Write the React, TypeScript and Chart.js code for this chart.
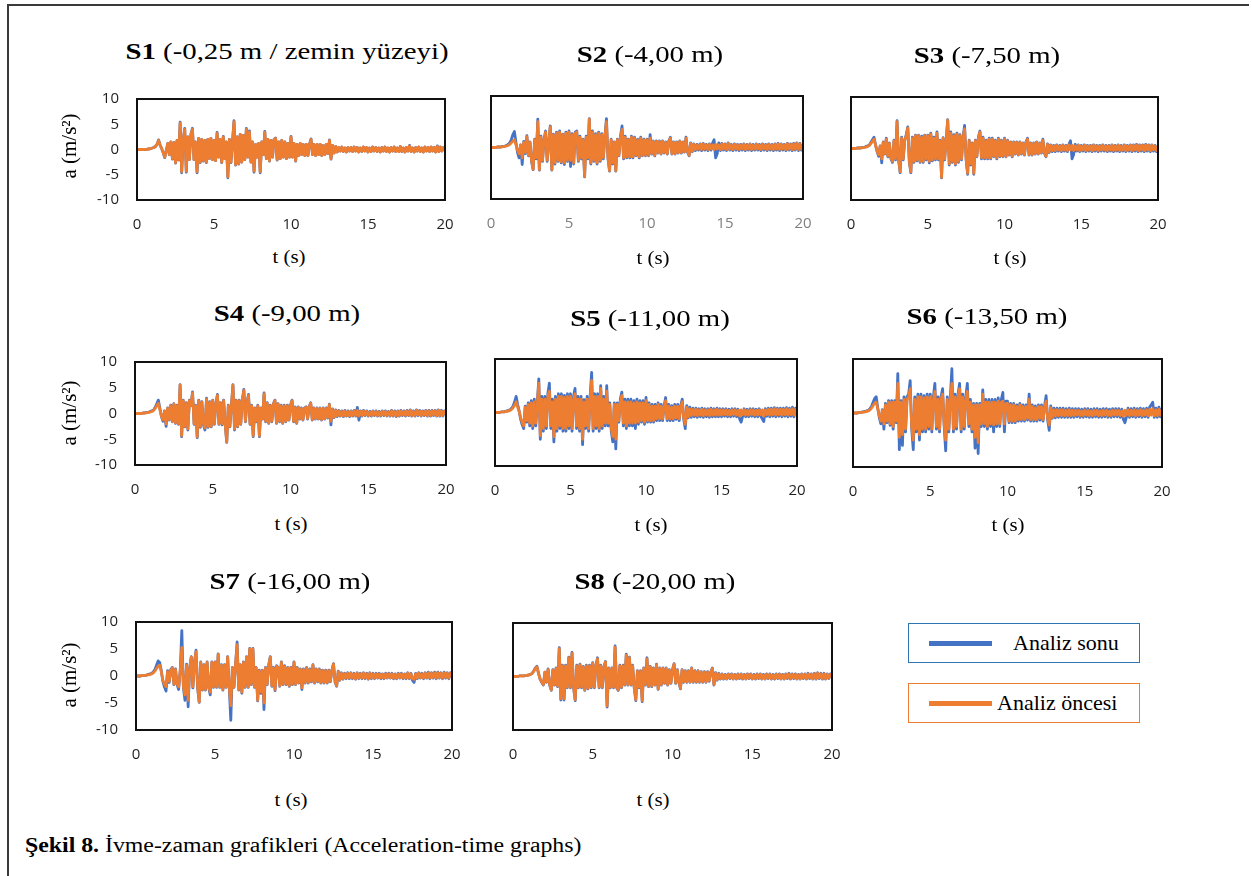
import React, { useEffect, useRef } from "react";
import { Chart, registerables } from "chart.js";

Chart.register(...registerables);

// ---------- DATA ----------
// time (s), 0.1 s steps
const TIME_S = [
  0, 0.1, 0.2, 0.3, 0.4, 0.5, 0.6, 0.7, 0.8, 0.9,
  1, 1.1, 1.2, 1.3, 1.4, 1.5, 1.6, 1.7, 1.8, 1.9,
  2, 2.1, 2.2, 2.3, 2.4, 2.5, 2.6, 2.7, 2.8, 2.9,
  3, 3.1, 3.2, 3.3, 3.4, 3.5, 3.6, 3.7, 3.8, 3.9,
  4, 4.1, 4.2, 4.3, 4.4, 4.5, 4.6, 4.7, 4.8, 4.9,
  5, 5.1, 5.2, 5.3, 5.4, 5.5, 5.6, 5.7, 5.8, 5.9,
  6, 6.1, 6.2, 6.3, 6.4, 6.5, 6.6, 6.7, 6.8, 6.9,
  7, 7.1, 7.2, 7.3, 7.4, 7.5, 7.6, 7.7, 7.8, 7.9,
  8, 8.1, 8.2, 8.3, 8.4, 8.5, 8.6, 8.7, 8.8, 8.9,
  9, 9.1, 9.2, 9.3, 9.4, 9.5, 9.6, 9.7, 9.8, 9.9,
  10, 10.1, 10.2, 10.3, 10.4, 10.5, 10.6, 10.7, 10.8, 10.9,
  11, 11.1, 11.2, 11.3, 11.4, 11.5, 11.6, 11.7, 11.8, 11.9,
  12, 12.1, 12.2, 12.3, 12.4, 12.5, 12.6, 12.7, 12.8, 12.9,
  13, 13.1, 13.2, 13.3, 13.4, 13.5, 13.6, 13.7, 13.8, 13.9,
  14, 14.1, 14.2, 14.3, 14.4, 14.5, 14.6, 14.7, 14.8, 14.9,
  15, 15.1, 15.2, 15.3, 15.4, 15.5, 15.6, 15.7, 15.8, 15.9,
  16, 16.1, 16.2, 16.3, 16.4, 16.5, 16.6, 16.7, 16.8, 16.9,
  17, 17.1, 17.2, 17.3, 17.4, 17.5, 17.6, 17.7, 17.8, 17.9,
  18, 18.1, 18.2, 18.3, 18.4, 18.5, 18.6, 18.7, 18.8, 18.9,
  19, 19.1, 19.2, 19.3, 19.4, 19.5, 19.6, 19.7, 19.8, 19.9,
  20,
];
const X_TICKS = [0, 5, 10, 15, 20];
const Y_TICKS = [-10, -5, 0, 5, 10];
const SENSOR_NAMES = ["S1", "S2", "S3", "S4", "S5", "S6", "S7", "S8"];
const SENSOR_DEPTHS = [
  "(-0,25 m / zemin yüzeyi)",
  "(-4,00 m)",
  "(-7,50 m)",
  "(-9,00 m)",
  "(-11,00 m)",
  "(-13,50 m)",
  "(-16,00 m)",
  "(-20,00 m)",
];
const SERIES_NAMES = ["Analiz sonu", "Analiz öncesi"];
const X_TITLE = "t (s)";
const Y_TITLE = "a (m/s²)";
const CAPTION_BOLD = "Şekil 8.";
const CAPTION_TEXT = " İvme-zaman grafikleri (Acceleration-time graphs)";

// ---- S1 ----
const S1_SONU = [
  0, 0, 0, 0, 0, 0, 0, 0.1, 0.1, 0.2,
  0.3, 0.4, 0.6, 1.0, 1.9, 0.9, 0.2, -0.6, -1.6, -0.2,
  1.2, -1.0, 1.5, -1.9, 1.4, -2.7, 1.8, -2.1, 5.4, -4.6,
  2.0, 4.2, -4.5, 2.5, -2.0, 3.0, 4.2, -2.0, 1.5, -4.6,
  2.2, -2.6, 2.0, -2.3, 1.8, -2.6, 2.0, -1.8, 2.2, -2.0,
  1.8, -2.2, 3.4, -1.5, 2.0, -2.6, 2.6, -1.8, 1.5, -5.6,
  2.0, -2.6, 1.5, 5.7, -3.1, 2.5, -2.9, 3.0, -2.5, 2.8,
  -2.0, 4.2, -1.5, 3.7, -2.5, 1.5, -4.5, 1.0, -1.5, 1.2,
  -4.6, 1.5, -1.0, 3.6, -1.8, 2.0, -2.3, 1.8, -1.5, 2.0,
  2.3, -2.1, 1.5, -1.8, 1.8, -1.5, 1.5, -1.8, 1.2, -1.5,
  2.6, -1.5, 1.2, -2.3, 1.0, -1.2, 1.2, -1.0, 1.0, -1.2,
  1.0, -1.2, 1.0, 2.1, -1.0, 1.0, -1.2, 1.0, -1.0, 1.0,
  -1.2, 0.8, -1.0, 1.0, -0.8, 1.9, -1.9, 0.8, -0.7, 0.6,
  -0.5, 0.4, -0.3, 0.5, -0.4, 0.3, -0.5, 0.4, -0.3, 0.4,
  -0.4, 0.5, -0.3, 0.4, -0.5, 0.3, -0.4, 0.5, -0.3, 0.4,
  -0.5, 0.3, -0.4, 0.5, -0.3, 0.4, -0.4, 0.3, -0.5, 0.4,
  -0.3, 0.5, -0.4, 0.3, -0.5, 0.4, -0.3, 0.5, -0.4, 0.3,
  -0.4, 0.6, -0.4, 0.3, -0.5, 0.4, -0.3, 0.8, -0.4, 0.3,
  -0.5, 0.4, -0.3, 0.5, -0.4, 0.3, -0.5, 0.5, -0.3, 0.4,
  -0.4, 0.5, -0.3, 0.4, -0.5, 0.7, -0.4, 0.5, -0.3, 0.4,
  0.3,
];
const S1_ONCESI = [
  0, 0, 0, 0, 0, 0, 0, 0.1, 0.1, 0.2,
  0.3, 0.4, 0.6, 1.0, 1.8, 0.9, 0.2, -0.6, -1.5, -0.2,
  1.2, -1.0, 1.5, -1.8, 1.4, -2.6, 1.8, -2.0, 5.2, -4.4,
  2.0, 4.0, -4.3, 2.5, -2.0, 3.0, 4.0, -2.0, 1.5, -4.4,
  2.2, -2.5, 2.0, -2.2, 1.8, -2.5, 2.0, -1.8, 2.2, -2.0,
  1.8, -2.2, 3.2, -1.5, 2.0, -2.5, 2.5, -1.8, 1.5, -5.4,
  2.0, -2.5, 1.5, 5.5, -3.0, 2.5, -2.8, 3.0, -2.5, 2.8,
  -2.0, 4.0, -1.5, 3.5, -2.5, 1.5, -4.3, 1.0, -1.5, 1.2,
  -4.4, 1.5, -1.0, 3.4, -1.8, 2.0, -2.2, 1.8, -1.5, 2.0,
  2.2, -2.0, 1.5, -1.8, 1.8, -1.5, 1.5, -1.8, 1.2, -1.5,
  2.5, -1.5, 1.2, -2.2, 1.0, -1.2, 1.2, -1.0, 1.0, -1.2,
  1.0, -1.2, 1.0, 2.0, -1.0, 1.0, -1.2, 1.0, -1.0, 1.0,
  -1.2, 0.8, -1.0, 1.0, -0.8, 1.8, -1.8, 0.8, -0.7, 0.6,
  -0.5, 0.4, -0.3, 0.5, -0.4, 0.3, -0.5, 0.4, -0.3, 0.4,
  -0.4, 0.5, -0.3, 0.4, -0.5, 0.3, -0.4, 0.5, -0.3, 0.4,
  -0.5, 0.3, -0.4, 0.5, -0.3, 0.4, -0.4, 0.3, -0.5, 0.4,
  -0.3, 0.5, -0.4, 0.3, -0.5, 0.4, -0.3, 0.5, -0.4, 0.3,
  -0.4, 0.6, -0.4, 0.3, -0.5, 0.4, -0.3, 0.7, -0.4, 0.3,
  -0.5, 0.4, -0.3, 0.5, -0.4, 0.3, -0.5, 0.5, -0.3, 0.4,
  -0.4, 0.5, -0.3, 0.4, -0.5, 0.6, -0.4, 0.5, -0.3, 0.4,
  0.3,
];
// ---- S2 ----
const S2_SONU = [
  0, 0, 0, 0, 0.1, 0.1, 0.1, 0.2, 0.2, 0.3,
  0.4, 0.6, 0.9, 1.5, 2.5, 3.1, 1.0, -1.0, -2.0, 0.5,
  -3.3, 1.2, -1.2, 2.3, -1.6, 1.1, -2.7, -4.3, 1.6, -2.2,
  5.5, -4.4, 2.2, -2.7, 1.6, 3.2, -2.7, 1.1, 4.2, -4.4,
  2.6, -3.2, 3.0, -2.7, 3.2, -3.0, 2.6, -3.3, 3.0, -2.7,
  3.2, -3.7, 2.7, -3.2, 3.0, 3.2, -2.7, 2.2, -2.2, 1.6,
  -5.7, 2.2, -2.2, 5.6, -3.2, 3.2, -2.7, 2.7, -3.2, 3.0,
  -2.7, 2.7, -2.2, 2.2, 5.6, -2.2, -4.6, 1.6, -3.2, 1.1,
  -4.6, 1.6, -1.6, 2.2, 4.2, -2.2, 2.2, -2.0, 1.6, -2.0,
  2.2, -2.0, 2.0, -1.6, 1.6, -2.0, 2.0, -1.6, 1.6, -1.6,
  1.6, -1.6, 2.5, -1.3, 1.3, -1.6, 1.3, -1.1, 1.3, -1.3,
  1.3, -1.1, 1.1, -1.3, 1.3, 2.0, -1.3, 1.1, -1.3, 1.1,
  -1.1, 1.3, -1.1, 1.1, -0.9, 2.0, -0.9, -1.6, 0.9, -0.8,
  0.7, -0.6, 0.6, -0.5, 0.7, -0.6, 0.8, -0.5, 0.6, -0.6,
  0.7, -0.5, 0.8, 1.5, -2.0, -1.2, 0.9, -0.6, 0.8, -0.5,
  0.7, -0.6, 0.9, -0.5, 0.6, -0.6, 0.7, -0.5, 0.6, -0.6,
  0.6, -0.5, 0.7, -0.6, 0.6, -0.5, 0.7, -0.6, 0.6, -0.5,
  0.7, -0.5, 0.6, -0.6, 0.7, -0.5, 0.6, -0.6, 0.7, -0.5,
  0.6, -0.6, 0.7, -0.5, 0.8, -0.6, 0.7, -0.5, 0.6, -0.6,
  0.8, -0.5, 0.7, -0.6, 0.8, -0.5, 0.9, -0.6, 0.8, -0.5,
  0.6,
];
const S2_ONCESI = [
  0, 0, 0, 0, 0.1, 0.1, 0.1, 0.1, 0.2, 0.2,
  0.3, 0.4, 0.6, 0.9, 1.2, 1.5, 0.5, -0.5, -1.2, 0.5,
  -2.0, 1.0, -1.0, 2.1, -1.5, 1.0, -2.5, -4.2, 1.5, -2.0,
  5.0, -4.3, 2.0, -2.5, 1.5, 3.0, -2.5, 1.0, 4.0, -4.3,
  2.5, -3.0, 2.8, -2.5, 3.0, -2.8, 2.5, -3.0, 2.8, -2.5,
  3.0, -2.5, 2.5, -3.0, 2.8, 3.0, -2.5, 2.0, -2.0, 1.5,
  -5.6, 2.0, -2.0, 5.5, -3.0, 3.0, -2.5, 2.5, -3.0, 2.8,
  -2.5, 2.5, -2.0, 2.0, 5.0, -2.0, -4.5, 1.5, -3.0, 1.0,
  -4.5, 1.5, -1.5, 2.0, 3.5, -2.0, 2.0, -1.8, 1.5, -1.8,
  2.0, -1.8, 1.8, -1.5, 1.5, -1.8, 1.8, -1.5, 1.5, -1.5,
  1.5, -1.5, 1.8, -1.2, 1.2, -1.5, 1.2, -1.0, 1.2, -1.2,
  1.2, -1.0, 1.0, -1.2, 1.2, 1.8, -1.2, 1.0, -1.2, 1.0,
  -1.0, 1.2, -1.0, 1.0, -0.8, 1.8, -0.8, -1.5, 0.8, -0.7,
  0.6, -0.4, 0.5, -0.3, 0.6, -0.4, 0.7, -0.3, 0.5, -0.4,
  0.6, -0.3, 0.5, -0.4, 0.6, -0.3, 0.5, -0.4, 0.7, -0.3,
  0.6, -0.4, 0.8, -0.3, 0.5, -0.4, 0.6, -0.3, 0.5, -0.4,
  0.5, -0.3, 0.6, -0.4, 0.5, -0.3, 0.6, -0.4, 0.5, -0.3,
  0.6, -0.3, 0.5, -0.4, 0.6, -0.3, 0.5, -0.4, 0.6, -0.3,
  0.5, -0.4, 0.6, -0.3, 0.7, -0.4, 0.6, -0.3, 0.5, -0.4,
  0.7, -0.3, 0.6, -0.4, 0.7, -0.3, 0.8, -0.4, 0.7, -0.3,
  0.5,
];
// ---- S3 ----
const S3_SONU = [
  0, 0, 0, 0, 0.1, 0.1, 0.1, 0.2, 0.2, 0.3,
  0.4, 0.5, 0.7, 1.2, 1.7, 2.2, 0.7, -0.6, -1.5, 0.5,
  -2.8, 1.3, -1.1, 2.0, -1.6, 1.1, -2.0, -2.7, 1.6, -2.2,
  5.4, -2.2, -4.7, 2.2, -2.2, 1.6, 2.7, 4.2, -2.7, -4.7,
  2.2, -2.7, 2.6, -2.4, 2.6, -2.7, 2.4, -2.7, 2.6, -2.2,
  2.6, -2.8, 3.0, -2.4, 2.2, -2.2, 3.2, -2.2, 1.6, -5.7,
  2.1, -2.2, 1.6, 5.6, -3.2, 3.2, -2.7, 2.7, -3.2, 3.0,
  -2.7, 2.7, -2.2, 2.2, 4.5, -2.2, -5.0, 1.6, -3.2, 1.1,
  -5.0, 1.6, -1.6, 2.2, 3.4, -2.0, 2.2, -2.0, 1.6, -2.0,
  2.0, -2.0, 2.0, -1.6, 1.6, -2.0, 2.0, -1.6, 1.6, -1.6,
  2.0, -1.6, 1.6, -1.3, 1.3, -1.6, 1.3, -1.1, 1.3, -1.3,
  1.3, -1.1, 1.1, -1.3, 1.3, 2.0, -1.3, 1.1, -1.3, 1.1,
  -1.1, 1.3, -1.1, 1.1, -0.9, 1.8, -0.9, -1.6, 0.9, -0.8,
  0.7, -0.6, 0.6, -0.6, 0.7, -0.5, 0.6, -0.6, 0.7, -0.5,
  0.6, -0.6, 0.8, 1.5, -2.0, -1.2, 0.8, -0.5, 0.7, -0.6,
  0.6, -0.5, 0.7, -0.6, 0.6, -0.5, 0.6, -0.6, 0.7, -0.5,
  0.6, -0.6, 0.6, -0.5, 0.7, -0.5, 0.6, -0.6, 0.6, -0.5,
  0.7, -0.6, 0.6, -0.5, 0.7, -0.6, 0.6, -0.5, 0.7, -0.6,
  0.6, -0.5, 0.7, -0.6, 0.7, -0.5, 0.8, -0.6, 0.7, -0.5,
  0.7, -0.6, 0.8, -0.5, 0.7, -0.6, 0.7, -0.5, 0.6, -0.6,
  0.5,
];
const S3_ONCESI = [
  0, 0, 0, 0, 0.1, 0.1, 0.1, 0.1, 0.2, 0.2,
  0.3, 0.4, 0.6, 1.0, 1.4, 1.8, 0.6, -0.5, -1.2, 0.5,
  -2.0, 1.2, -1.0, 1.8, -1.5, 1.0, -1.8, -2.5, 1.5, -2.0,
  5.2, -2.0, -4.5, 2.0, -2.0, 1.5, 2.5, 4.0, -2.5, -4.5,
  2.0, -2.5, 2.5, -2.2, 2.5, -2.5, 2.2, -2.5, 2.5, -2.0,
  2.5, -2.5, 2.8, -2.2, 2.0, -2.0, 3.0, -2.0, 1.5, -5.6,
  2.0, -2.0, 1.5, 5.5, -3.0, 3.0, -2.5, 2.5, -3.0, 2.8,
  -2.5, 2.5, -2.0, 2.0, 3.8, -2.0, -4.8, 1.5, -3.0, 1.0,
  -4.8, 1.5, -1.5, 2.0, 3.2, -1.8, 2.0, -1.8, 1.5, -1.8,
  1.8, -1.8, 1.8, -1.5, 1.5, -1.8, 1.8, -1.5, 1.5, -1.5,
  1.8, -1.5, 1.5, -1.2, 1.2, -1.5, 1.2, -1.0, 1.2, -1.2,
  1.2, -1.0, 1.0, -1.2, 1.2, 1.8, -1.2, 1.0, -1.2, 1.0,
  -1.0, 1.2, -1.0, 1.0, -0.8, 1.6, -0.8, -1.5, 0.8, -0.7,
  0.6, -0.4, 0.5, -0.4, 0.6, -0.3, 0.5, -0.4, 0.6, -0.3,
  0.5, -0.4, 0.7, -0.3, 0.6, -0.4, 0.5, -0.3, 0.6, -0.4,
  0.5, -0.3, 0.6, -0.4, 0.5, -0.3, 0.5, -0.4, 0.6, -0.3,
  0.5, -0.4, 0.5, -0.3, 0.6, -0.3, 0.5, -0.4, 0.5, -0.3,
  0.6, -0.4, 0.5, -0.3, 0.6, -0.4, 0.5, -0.3, 0.6, -0.4,
  0.5, -0.3, 0.6, -0.4, 0.6, -0.3, 0.7, -0.4, 0.6, -0.3,
  0.6, -0.4, 0.7, -0.3, 0.6, -0.4, 0.6, -0.3, 0.5, -0.4,
  0.4,
];
// ---- S4 ----
const S4_SONU = [
  0, 0, 0, 0, 0, 0.1, 0.1, 0.2, 0.2, 0.3,
  0.4, 0.5, 0.7, 1.2, 1.9, 2.6, 1.0, -0.6, -1.5, 0.5,
  -2.5, 1.1, -1.3, 1.6, -1.6, 1.9, -1.9, 1.6, -2.1, 5.6,
  -4.5, 2.6, -2.6, 2.1, -3.2, 2.6, 1.6, 4.2, -2.1, 1.6,
  -4.7, 2.6, -2.7, 2.3, -2.2, -3.2, 3.0, -2.7, 2.3, -2.6,
  2.6, -2.1, 1.9, 3.7, -2.1, 2.1, -2.2, 2.6, -2.1, -5.6,
  1.6, -2.6, 1.6, 5.6, -3.2, 2.6, -2.6, 2.6, -2.1, 2.6,
  4.7, -1.6, 2.1, 3.7, -2.1, 1.6, -4.5, 1.1, -1.6, 1.6,
  -4.5, 1.1, -1.1, 4.0, -1.6, 2.1, -1.9, 1.6, -1.6, 1.9,
  2.6, -1.9, 1.9, -1.6, 1.6, -1.9, 1.6, -1.6, 1.6, -1.3,
  1.6, 2.6, -1.6, 1.3, -1.9, 1.3, -1.1, 1.1, -1.3, 1.1,
  1.3, -1.1, 1.3, 2.1, -1.3, 1.1, -1.1, 1.1, -1.1, 1.1,
  -1.3, 1.1, -1.1, 1.1, -0.9, 1.8, -2.2, 0.9, -0.8, 0.7,
  -0.6, 0.6, -0.5, 0.5, -0.6, 0.6, -0.5, 0.5, -0.6, 0.5,
  -0.5, 0.6, -0.5, 1.2, -1.3, 0.5, -0.5, 0.6, -0.4, 0.5,
  -0.5, 0.4, -0.5, 0.5, -0.4, 0.5, -0.5, 0.4, -0.5, 0.5,
  -0.4, 0.5, -0.5, 0.4, -0.5, 0.6, -0.5, 0.5, -0.6, 0.5,
  -0.5, 0.6, -0.4, 0.5, -0.5, 0.6, -0.4, 0.7, -0.5, 0.5,
  -0.5, 0.7, -0.4, 0.6, -0.5, 0.5, -0.4, 0.6, -0.5, 0.6,
  -0.5, 0.6, -0.4, 0.6, -0.5, 0.7, -0.5, 0.6, -0.5, 0.5,
  0.5,
];
const S4_ONCESI = [
  0, 0, 0, 0, 0, 0.1, 0.1, 0.1, 0.2, 0.2,
  0.3, 0.4, 0.6, 1.0, 1.5, 2.0, 0.8, -0.5, -1.2, 0.5,
  -2.0, 1.0, -1.2, 1.5, -1.5, 1.8, -1.8, 1.5, -2.0, 5.5,
  -4.3, 2.5, -2.5, 2.0, -3.0, 2.5, 1.5, 4.0, -2.0, 1.5,
  -4.5, 2.5, -2.5, 2.2, -2.0, -2.8, 2.8, -2.5, 2.2, -2.5,
  2.5, -2.0, 1.8, 3.5, -2.0, 2.0, -2.0, 2.5, -2.0, -5.5,
  1.5, -2.5, 1.5, 5.5, -3.0, 2.5, -2.5, 2.5, -2.0, 2.5,
  4.5, -1.5, 2.0, 3.5, -2.0, 1.5, -4.3, 1.0, -1.5, 1.5,
  -4.3, 1.0, -1.0, 3.8, -1.5, 2.0, -1.8, 1.5, -1.5, 1.8,
  2.5, -1.8, 1.8, -1.5, 1.5, -1.8, 1.5, -1.5, 1.5, -1.2,
  1.5, 2.5, -1.5, 1.2, -1.8, 1.2, -1.0, 1.0, -1.2, 1.0,
  1.2, -1.0, 1.2, 2.0, -1.2, 1.0, -1.0, 1.0, -1.0, 1.0,
  -1.2, 1.0, -1.0, 1.0, -0.8, 1.7, -1.5, 0.8, -0.7, 0.6,
  -0.5, 0.5, -0.4, 0.4, -0.5, 0.5, -0.4, 0.4, -0.5, 0.4,
  -0.4, 0.5, -0.4, 0.6, -0.5, 0.4, -0.4, 0.5, -0.3, 0.4,
  -0.4, 0.3, -0.4, 0.4, -0.3, 0.4, -0.4, 0.3, -0.4, 0.4,
  -0.3, 0.4, -0.4, 0.3, -0.4, 0.5, -0.4, 0.4, -0.5, 0.4,
  -0.4, 0.5, -0.3, 0.4, -0.4, 0.5, -0.3, 0.6, -0.4, 0.4,
  -0.4, 0.6, -0.3, 0.5, -0.4, 0.4, -0.3, 0.5, -0.4, 0.5,
  -0.4, 0.5, -0.3, 0.5, -0.4, 0.6, -0.4, 0.5, -0.4, 0.4,
  0.4,
];
// ---- S5 ----
const S5_SONU = [
  0, 0, 0, 0, 0.1, 0.1, 0.1, 0.2, 0.3, 0.4,
  0.5, 0.8, 1.2, 2.0, 3.0, 1.5, 0.3, -1.3, -2.3, -3.0,
  1.2, -1.8, 1.8, -2.5, 2.2, -3.0, 2.5, -2.5, 1.8, 6.3,
  -5.0, 3.0, -3.5, 3.0, -3.0, 3.5, 5.5, -3.0, 2.5, -5.5,
  3.0, -3.5, 3.5, -3.0, 3.5, -3.5, 3.2, -3.5, 3.5, -3.0,
  3.5, -3.5, 3.0, 4.5, -3.0, 3.0, -3.5, 3.0, -6.0, 2.4,
  -3.0, 3.0, -3.5, 3.0, 7.5, -3.5, 3.5, -3.0, 3.5, -3.5,
  5.0, -3.0, 3.0, -2.5, 5.0, -2.5, 1.8, -3.5, -5.5, 1.8,
  -6.8, 1.8, -1.8, 2.5, 3.8, -2.5, 2.5, -3.0, 2.5, -2.5,
  2.5, -2.5, 2.2, -3.0, 2.5, -2.2, 2.2, -1.8, 2.2, -2.2,
  2.8, -1.8, 1.8, -1.8, 1.5, -1.8, 1.5, -1.5, 1.8, -1.5,
  1.5, -1.5, 1.3, 2.8, -1.5, 1.5, -1.5, 1.3, -1.5, 1.5,
  -1.3, 1.5, -1.5, 1.3, 2.5, -1.3, -3.0, 1.3, -1.0, 1.0,
  -0.9, 0.8, -0.8, 0.8, -0.9, 0.7, -0.8, 0.8, -0.9, 0.7,
  -0.8, 0.7, -0.9, 0.8, -0.8, 0.7, -0.8, 0.8, -0.8, 0.7,
  -0.8, 0.7, -0.7, 0.7, -0.8, 0.6, -0.8, 0.7, -0.7, 0.7,
  -0.8, 0.6, -1.2, -1.8, -0.7, 0.7, -0.8, 0.6, -0.8, 0.7,
  -0.7, 0.7, -0.8, 0.6, -0.8, 0.7, -0.7, -1.2, -1.7, 0.7,
  -0.7, 0.8, -0.8, 0.8, -0.7, 0.9, -0.8, 0.8, -0.7, 0.8,
  -0.8, 0.8, -0.7, 0.9, -0.8, 0.8, -0.7, 1.0, -0.8, 0.8,
  0.8,
];
const S5_ONCESI = [
  0, 0, 0, 0, 0.1, 0.1, 0.1, 0.2, 0.2, 0.3,
  0.4, 0.6, 0.9, 1.4, 2.0, 1.0, 0.2, -1.0, -1.8, -2.5,
  1.0, -1.5, 1.5, -2.0, 1.8, -2.5, 2.0, -2.0, 1.5, 5.5,
  -4.3, 2.5, -3.0, 2.5, -2.5, 3.0, 4.0, -2.5, 2.0, -4.5,
  2.5, -3.0, 3.0, -2.5, 3.0, -3.0, 2.8, -3.0, 3.0, -2.5,
  3.0, -3.0, 2.5, 3.5, -2.5, 2.5, -3.0, 2.5, -5.0, 2.0,
  -2.5, 2.5, -3.0, 2.5, 6.0, -3.0, 3.0, -2.5, 3.0, -3.0,
  4.5, -2.5, 2.5, -2.0, 4.0, -2.0, 1.5, -3.0, -4.5, 1.5,
  -5.0, 1.5, -1.5, 2.0, 3.2, -2.0, 2.0, -2.5, 2.0, -2.0,
  2.0, -2.0, 1.8, -2.0, 2.0, -1.8, 1.8, -1.5, 1.8, -1.8,
  2.2, -1.5, 1.5, -1.5, 1.2, -1.5, 1.2, -1.2, 1.5, -1.2,
  1.2, -1.2, 1.0, 2.2, -1.2, 1.2, -1.2, 1.0, -1.2, 1.2,
  -1.0, 1.2, -1.2, 1.0, 2.0, -1.0, -2.2, 1.0, -0.8, 0.7,
  -0.6, 0.6, -0.5, 0.6, -0.6, 0.5, -0.5, 0.6, -0.6, 0.5,
  -0.5, 0.5, -0.6, 0.6, -0.5, 0.5, -0.5, 0.6, -0.5, 0.5,
  -0.5, 0.5, -0.4, 0.5, -0.5, 0.4, -0.5, 0.5, -0.4, 0.5,
  -0.5, 0.4, -0.7, 0.5, -0.4, 0.5, -0.5, 0.4, -0.5, 0.5,
  -0.4, 0.5, -0.5, 0.4, -0.5, 0.5, -0.4, 0.5, -0.7, 0.5,
  -0.4, 0.6, -0.5, 0.6, -0.4, 0.7, -0.5, 0.6, -0.4, 0.6,
  -0.5, 0.6, -0.4, 0.7, -0.5, 0.6, -0.4, 0.7, -0.5, 0.6,
  0.6,
];
// ---- S6 ----
const S6_SONU = [
  0, 0, 0, 0, 0.1, 0.1, 0.2, 0.2, 0.3, 0.4,
  0.5, 0.8, 1.2, 2.0, 2.7, 3.0, 1.0, -0.8, -2.0, 0.6,
  -3.0, 1.8, -1.8, 2.3, -2.3, 2.3, -3.0, 2.3, -1.8, 7.3,
  -6.8, 2.3, -6.0, 3.0, -3.5, 3.0, 3.5, 6.0, -3.0, -6.8,
  3.0, -3.5, 3.5, -5.0, 3.5, -3.5, 3.2, -3.5, 3.5, -3.0,
  3.5, -3.5, 3.0, 5.5, -3.0, 3.0, -3.5, 3.0, 4.5, -2.5,
  -7.0, 3.0, -3.5, 3.0, 8.2, -3.5, 3.5, -3.0, 3.5, 5.5,
  -3.5, 3.5, -3.0, 3.0, 5.5, -2.5, 2.5, -3.5, 1.8, -6.5,
  1.8, -7.5, 1.8, -2.5, 4.3, -2.5, 2.5, -3.0, 2.5, -2.5,
  2.5, -3.5, 2.5, -2.5, 2.8, -2.5, 2.5, 3.8, -3.5, 2.2,
  2.2, -1.8, 1.8, -1.8, 1.8, -1.8, 1.5, -1.5, 1.8, -1.5,
  1.5, -1.5, 1.5, -1.3, 3.5, -1.5, 1.5, -1.5, 1.3, -1.5,
  1.5, -1.3, 1.5, -1.5, 1.3, 3.2, -1.3, -3.2, 1.3, -1.0,
  0.9, -0.9, 0.9, -0.8, 0.9, -0.8, 0.9, -0.8, 0.8, -0.8,
  0.9, -0.8, 0.8, -0.8, 0.8, -0.7, 0.8, -0.8, 0.7, -0.8,
  0.8, -0.7, 0.8, -0.8, 0.7, -0.8, 0.8, -0.7, 0.8, -0.8,
  0.7, -0.8, 0.8, -0.7, 0.8, -0.8, 0.7, -0.8, 0.8, -0.7,
  0.8, -0.7, 0.8, -0.8, 0.7, -1.2, -1.8, -0.7, 0.9, -0.8,
  0.8, -0.7, 0.9, -0.8, 0.8, -0.7, 0.9, -0.8, 0.8, -0.7,
  0.9, -0.8, 1.1, 1.5, 2.0, -0.8, 0.9, -0.8, 1.1, -0.7,
  0.9,
];
const S6_ONCESI = [
  0, 0, 0, 0, 0.1, 0.1, 0.1, 0.2, 0.2, 0.3,
  0.4, 0.6, 0.9, 1.4, 1.8, 2.0, 0.8, -0.5, -1.5, 0.5,
  -2.0, 1.5, -1.5, 2.0, -2.0, 2.0, -2.5, 2.0, -1.5, 5.5,
  -4.5, 2.0, -4.0, 2.5, -3.0, 2.5, 3.0, 4.5, -2.5, -5.0,
  2.5, -3.0, 3.0, -4.0, 3.0, -3.0, 2.8, -3.0, 3.0, -2.5,
  3.0, -3.0, 2.5, 4.0, -2.5, 2.5, -3.0, 2.5, 3.5, -2.0,
  -5.0, 2.5, -3.0, 2.5, 5.5, -3.0, 3.0, -2.5, 3.0, 4.5,
  -3.0, 3.0, -2.5, 2.5, 4.0, -2.0, 2.0, -3.0, 1.5, -4.5,
  1.5, -5.5, 1.5, -2.0, 3.5, -2.0, 2.0, -2.5, 2.0, -2.0,
  2.0, -2.2, 2.0, -2.0, 2.2, -2.0, 2.0, 2.2, -2.0, 1.8,
  1.8, -1.5, 1.5, -1.5, 1.5, -1.5, 1.2, -1.2, 1.5, -1.2,
  1.2, -1.2, 1.2, -1.0, 2.5, -1.2, 1.2, -1.2, 1.0, -1.2,
  1.2, -1.0, 1.2, -1.2, 1.0, 2.2, -1.0, -2.2, 1.0, -0.8,
  0.6, -0.6, 0.6, -0.5, 0.6, -0.5, 0.6, -0.5, 0.5, -0.5,
  0.6, -0.5, 0.5, -0.5, 0.5, -0.4, 0.5, -0.5, 0.4, -0.5,
  0.5, -0.4, 0.5, -0.5, 0.4, -0.5, 0.5, -0.4, 0.5, -0.5,
  0.4, -0.5, 0.5, -0.4, 0.5, -0.5, 0.4, -0.5, 0.5, -0.4,
  0.5, -0.4, 0.5, -0.5, 0.4, -0.6, 0.5, -0.4, 0.6, -0.5,
  0.5, -0.4, 0.6, -0.5, 0.5, -0.4, 0.6, -0.5, 0.5, -0.4,
  0.6, -0.5, 0.7, -0.4, 0.8, -0.5, 0.6, -0.5, 0.7, -0.4,
  0.6,
];
// ---- S7 ----
const S7_SONU = [
  0, 0, 0, 0, 0.1, 0.1, 0.1, 0.2, 0.3, 0.4,
  0.5, 0.8, 1.2, 2.0, 2.8, 2.5, 1.0, -1.0, -2.0, -2.8,
  1.0, -1.2, 1.2, 1.6, -1.6, 1.3, -1.6, -2.5, 1.1, 8.4,
  -2.2, -4.5, 2.2, -5.7, 1.6, 3.6, -2.2, 2.6, 4.8, -2.2,
  -4.9, 2.6, -2.6, 2.1, -2.6, 2.6, -2.1, -3.5, 2.6, -2.1,
  2.6, -2.1, 4.1, -2.1, 2.1, -2.6, 2.1, -2.1, 3.6, -2.1,
  -8.2, 1.6, -2.1, 2.1, 6.3, -2.6, 2.1, -3.2, 2.6, -2.1,
  3.6, -2.1, 5.1, -1.6, 5.1, -2.1, 1.6, -4.6, 1.1, -3.2,
  1.1, -6.2, 1.6, -1.6, 2.1, 3.6, -1.9, 1.6, -2.7, 1.9,
  1.6, -1.9, 2.6, -1.6, 1.9, -1.6, 1.6, -1.9, 1.6, -1.6,
  2.6, -1.6, 1.6, -1.3, 1.3, -2.5, 1.3, -1.3, 1.6, -1.3,
  1.3, -1.1, 2.1, -1.3, 1.3, -1.1, 1.3, -1.3, 1.1, -1.3,
  1.1, -1.3, 1.1, -1.1, 1.1, 2.3, -1.1, -1.9, 0.9, -0.8,
  0.6, -0.6, 0.5, -0.5, 0.6, -0.5, 0.6, -0.5, 0.5, -0.6,
  0.6, -0.5, 0.5, -0.5, 0.6, -0.5, 0.5, -0.6, 0.6, -0.5,
  0.5, -0.5, 0.5, -0.4, 0.5, -0.5, 0.4, -0.5, 0.5, -0.4,
  0.5, -0.4, 0.5, -0.5, 0.4, -0.5, 0.5, -0.4, 0.5, -0.5,
  0.4, -0.5, 0.6, -0.5, 0.5, -0.8, -1.2, 0.5, -0.5, 0.6,
  -0.4, 0.5, -0.5, 0.6, -0.4, 0.7, -0.5, 0.6, -0.4, 0.7,
  -0.5, 0.7, -0.4, 0.6, -0.5, 0.7, -0.4, 0.6, -0.5, 0.6,
  0.5,
];
const S7_ONCESI = [
  0, 0, 0, 0, 0.1, 0.1, 0.1, 0.2, 0.2, 0.3,
  0.4, 0.6, 0.9, 1.4, 1.8, 2.0, 0.8, -0.8, -1.5, -2.0,
  0.8, -1.0, 1.0, 1.5, -1.5, 1.2, -1.5, -2.0, 1.0, 5.3,
  -2.0, -3.5, 2.0, -4.5, 1.5, 3.5, -2.0, 2.5, 4.5, -2.0,
  -4.8, 2.5, -2.5, 2.0, -2.5, 2.5, -2.0, -3.0, 2.5, -2.0,
  2.5, -2.0, 4.0, -2.0, 2.0, -2.5, 2.0, -2.0, 3.5, -2.0,
  -5.5, 1.5, -2.0, 2.0, 5.8, -2.5, 2.0, -3.0, 2.5, -2.0,
  3.5, -2.0, 5.0, -1.5, 5.0, -2.0, 1.5, -4.5, 1.0, -3.0,
  1.0, -5.0, 1.5, -1.5, 2.0, 3.5, -1.8, 1.5, -2.5, 1.8,
  1.5, -1.8, 2.5, -1.5, 1.8, -1.5, 1.5, -1.8, 1.5, -1.5,
  2.5, -1.5, 1.5, -1.2, 1.2, -2.2, 1.2, -1.2, 1.5, -1.2,
  1.2, -1.0, 2.0, -1.2, 1.2, -1.0, 1.2, -1.2, 1.0, -1.2,
  1.0, -1.2, 1.0, -1.0, 1.0, 2.2, -1.0, -1.8, 0.8, -0.7,
  0.5, -0.5, 0.4, -0.4, 0.5, -0.4, 0.5, -0.4, 0.4, -0.5,
  0.5, -0.4, 0.4, -0.4, 0.5, -0.4, 0.4, -0.5, 0.5, -0.4,
  0.4, -0.4, 0.4, -0.3, 0.4, -0.4, 0.3, -0.4, 0.4, -0.3,
  0.4, -0.3, 0.4, -0.4, 0.3, -0.4, 0.4, -0.3, 0.4, -0.4,
  0.3, -0.4, 0.5, -0.4, 0.4, -0.5, -0.6, 0.4, -0.4, 0.5,
  -0.3, 0.4, -0.4, 0.5, -0.3, 0.6, -0.4, 0.5, -0.3, 0.6,
  -0.4, 0.6, -0.3, 0.5, -0.4, 0.6, -0.3, 0.5, -0.4, 0.5,
  0.4,
];
// ---- S8 ----
const S8_SONU = [
  0, 0, 0, 0, 0.1, 0.1, 0.1, 0.1, 0.2, 0.2,
  0.3, 0.4, 0.6, 1.0, 1.6, 1.9, 0.6, -0.5, -1.1, -1.6,
  0.8, -1.1, 1.4, -1.6, -2.6, 1.3, -1.6, 1.6, -1.9, 5.4,
  -4.4, 2.1, -4.4, 2.1, -2.1, 3.6, -2.1, 4.5, -2.1, -4.5,
  2.1, -2.1, 2.3, -2.1, 1.9, -2.6, 2.1, -2.3, 2.1, -2.1,
  2.6, -2.1, 2.1, 3.5, -2.1, 2.1, -2.1, 1.9, 2.8, -5.7,
  1.6, -2.1, 1.6, -2.1, 5.7, -2.1, -2.6, 2.1, -2.1, 2.1,
  -1.6, 4.2, -1.6, 3.6, -1.6, 2.1, -2.1, -4.5, 1.1, -2.1,
  1.1, -4.7, 1.6, -1.6, 3.5, -1.9, 1.9, -1.9, 1.6, -1.6,
  2.3, -2.4, 1.6, -1.6, 1.6, -1.3, 1.6, -1.6, 1.3, -1.3,
  1.3, 2.4, -1.3, 1.3, -1.1, -2.3, 1.3, -1.1, 1.1, -1.1,
  1.1, -1.1, 1.6, -1.1, 1.1, -1.1, 1.1, -1.1, 0.9, -1.1,
  0.9, -1.1, 0.9, -0.9, 0.9, 1.6, -1.6, 0.7, -0.7, 0.6,
  -0.5, 0.5, -0.5, 0.4, -0.5, 0.5, -0.4, 0.5, -0.5, 0.4,
  -0.5, 0.5, -0.4, 0.5, -0.5, 0.4, -0.5, 0.5, -0.4, 0.5,
  -0.5, 0.4, -0.5, 0.5, -0.4, 0.5, -0.5, 0.4, -0.5, 0.5,
  -0.4, 0.5, -0.5, 0.4, -0.5, 0.5, -0.4, 0.5, -0.5, 0.4,
  -0.5, 0.5, -0.4, 0.6, -0.5, 0.5, -0.4, 0.5, -0.5, 0.4,
  -0.5, 0.5, -0.4, 0.5, -0.5, 0.6, -0.4, 0.5, -0.5, 0.6,
  -0.5, 0.7, -0.4, 0.6, -0.5, 0.6, -0.5, 0.5, -0.4, 0.5,
  0.4,
];
const S8_ONCESI = [
  0, 0, 0, 0, 0.1, 0.1, 0.1, 0.1, 0.2, 0.2,
  0.3, 0.4, 0.6, 1.0, 1.5, 1.8, 0.6, -0.5, -1.0, -1.5,
  0.8, -1.0, 1.3, -1.5, -2.5, 1.2, -1.5, 1.5, -1.8, 5.2,
  -4.2, 2.0, -4.2, 2.0, -2.0, 3.5, -2.0, 4.3, -2.0, -4.3,
  2.0, -2.0, 2.2, -2.0, 1.8, -2.5, 2.0, -2.2, 2.0, -2.0,
  2.5, -2.0, 2.0, 3.3, -2.0, 2.0, -2.0, 1.8, 2.7, -5.5,
  1.5, -2.0, 1.5, -2.0, 5.5, -2.0, -2.5, 2.0, -2.0, 2.0,
  -1.5, 4.0, -1.5, 3.5, -1.5, 2.0, -2.0, -4.3, 1.0, -2.0,
  1.0, -4.5, 1.5, -1.5, 3.3, -1.8, 1.8, -1.8, 1.5, -1.5,
  2.2, -2.3, 1.5, -1.5, 1.5, -1.2, 1.5, -1.5, 1.2, -1.2,
  1.2, 2.3, -1.2, 1.2, -1.0, -2.2, 1.2, -1.0, 1.0, -1.0,
  1.0, -1.0, 1.5, -1.0, 1.0, -1.0, 1.0, -1.0, 0.8, -1.0,
  0.8, -1.0, 0.8, -0.8, 0.8, 1.5, -1.5, 0.6, -0.6, 0.5,
  -0.4, 0.4, -0.4, 0.3, -0.4, 0.4, -0.3, 0.4, -0.4, 0.3,
  -0.4, 0.4, -0.3, 0.4, -0.4, 0.3, -0.4, 0.4, -0.3, 0.4,
  -0.4, 0.3, -0.4, 0.4, -0.3, 0.4, -0.4, 0.3, -0.4, 0.4,
  -0.3, 0.4, -0.4, 0.3, -0.4, 0.4, -0.3, 0.4, -0.4, 0.3,
  -0.4, 0.4, -0.3, 0.5, -0.4, 0.4, -0.3, 0.4, -0.4, 0.3,
  -0.4, 0.4, -0.3, 0.4, -0.4, 0.5, -0.3, 0.4, -0.4, 0.5,
  -0.4, 0.6, -0.3, 0.5, -0.4, 0.5, -0.4, 0.4, -0.3, 0.4,
  0.3,
];

// ---------- STYLE / LAYOUT ----------
const BLUE = "#4472C4";
const ORANGE = "#ED7D31";
const SERIF = '"Liberation Serif", "Times New Roman", serif';
const SANS = '"Open Sans", "Liberation Sans", sans-serif';
const PAD_L = 60;
const PAD_T = 32;
const PAD_R = 32;
const PAD_B = 44;

type PanelSpec = {
  idx: number;
  after: number[];
  before: number[];
  fx: number; fy: number; fw: number; fh: number;
  showY: boolean;
  tickColor: string;
  titleX: number; titleBase: number;
  xtX: number; xtY: number;
  ytY: number;
};

const PANELS: PanelSpec[] = [
  { idx: 0, after: S1_SONU, before: S1_ONCESI, fx: 137, fy: 99, fw: 308, fh: 101, showY: true, tickColor: "#1f1f1f", titleX: 287, titleBase: 59, xtX: 289, xtY: 256, ytY: 146 },
  { idx: 1, after: S2_SONU, before: S2_ONCESI, fx: 491, fy: 96, fw: 312, fh: 103, showY: false, tickColor: "#7f7f7f", titleX: 650, titleBase: 62, xtX: 653, xtY: 257, ytY: 0 },
  { idx: 2, after: S3_SONU, before: S3_ONCESI, fx: 851, fy: 97, fw: 307, fh: 103, showY: false, tickColor: "#1f1f1f", titleX: 987, titleBase: 63, xtX: 1010, xtY: 257, ytY: 0 },
  { idx: 3, after: S4_SONU, before: S4_ONCESI, fx: 135, fy: 362, fw: 311, fh: 103, showY: true, tickColor: "#1f1f1f", titleX: 287, titleBase: 321, xtX: 291, xtY: 523, ytY: 413 },
  { idx: 4, after: S5_SONU, before: S5_ONCESI, fx: 495, fy: 359, fw: 302, fh: 107, showY: false, tickColor: "#1f1f1f", titleX: 650, titleBase: 326, xtX: 651, xtY: 524, ytY: 0 },
  { idx: 5, after: S6_SONU, before: S6_ONCESI, fx: 853, fy: 359, fw: 309, fh: 108, showY: false, tickColor: "#1f1f1f", titleX: 987, titleBase: 324, xtX: 1008, xtY: 524, ytY: 0 },
  { idx: 6, after: S7_SONU, before: S7_ONCESI, fx: 136, fy: 622, fw: 316, fh: 108, showY: true, tickColor: "#1f1f1f", titleX: 290, titleBase: 589, xtX: 291, xtY: 799, ytY: 675 },
  { idx: 7, after: S8_SONU, before: S8_ONCESI, fx: 513, fy: 623, fw: 319, fh: 107, showY: false, tickColor: "#1f1f1f", titleX: 655, titleBase: 589, xtX: 653, xtY: 799, ytY: 0 },
];

const framePlugin = {
  id: "plotFrame",
  afterDatasetsDraw(chart: any) {
    const { ctx, chartArea: a } = chart;
    ctx.save();
    ctx.strokeStyle = "#111111";
    ctx.lineWidth = 2;
    ctx.strokeRect(a.left, a.top, a.right - a.left, a.bottom - a.top);
    ctx.restore();
  },
};

function Panel({ p }: { p: PanelSpec }) {
  const ref = useRef<HTMLCanvasElement | null>(null);
  useEffect(() => {
    const canvas = ref.current;
    if (!canvas) return;
    const chart = new Chart(canvas, {
      type: "line",
      data: {
        datasets: [
          {
            label: SERIES_NAMES[1],
            data: TIME_S.map((t, i) => ({ x: t, y: p.before[i] })),
            borderColor: ORANGE,
            backgroundColor: ORANGE,
            borderWidth: 2.8,
            pointRadius: 0,
            borderJoinStyle: "round",
            tension: 0,
          },
          {
            label: SERIES_NAMES[0],
            data: TIME_S.map((t, i) => ({ x: t, y: p.after[i] })),
            borderColor: BLUE,
            backgroundColor: BLUE,
            borderWidth: 2.8,
            pointRadius: 0,
            borderJoinStyle: "round",
            tension: 0,
          },
        ],
      },
      options: {
        animation: false,
        responsive: false,
        events: [],
        layout: { padding: { left: 0, top: PAD_T, right: PAD_R, bottom: 0 } },
        plugins: {
          legend: { display: false },
          tooltip: { enabled: false },
          title: { display: false },
        },
        scales: {
          x: {
            type: "linear",
            min: X_TICKS[0],
            max: X_TICKS[X_TICKS.length - 1],
            afterBuildTicks: (s: any) => {
              s.ticks = X_TICKS.map((v) => ({ value: v }));
            },
            ticks: {
              color: p.tickColor,
              font: { family: SANS, size: 15 },
              padding: 16,
              maxRotation: 0,
              autoSkip: false,
            },
            grid: { display: false, drawTicks: false },
            border: { display: false },
            afterFit: (s: any) => {
              s.height = PAD_B;
            },
          },
          y: {
            type: "linear",
            min: Y_TICKS[0],
            max: Y_TICKS[Y_TICKS.length - 1],
            afterBuildTicks: (s: any) => {
              s.ticks = Y_TICKS.map((v) => ({ value: v }));
            },
            ticks: {
              display: p.showY,
              color: p.tickColor,
              font: { family: SANS, size: 15 },
              padding: 18,
              autoSkip: false,
            },
            grid: { display: false, drawTicks: false },
            border: { display: false },
            afterFit: (s: any) => {
              s.width = PAD_L;
            },
          },
        },
      } as any,
      plugins: [framePlugin],
    });
    return () => chart.destroy();
  }, [p]);
  const w = PAD_L + p.fw + PAD_R;
  const h = PAD_T + p.fh + PAD_B;
  return (
    <canvas
      ref={ref}
      width={w}
      height={h}
      style={{ position: "absolute", left: p.fx - PAD_L, top: p.fy - PAD_T, width: w, height: h }}
    />
  );
}

const TITLE_SIZE = 24;

function PanelTexts({ p }: { p: PanelSpec }) {
  return (
    <>
      <div
        style={{
          position: "absolute",
          left: p.titleX,
          top: p.titleBase - 0.8375 * TITLE_SIZE,
          transform: "translateX(-50%) scaleX(1.2)",
          whiteSpace: "nowrap",
          fontFamily: SERIF,
          fontSize: TITLE_SIZE,
          lineHeight: 1,
          color: "#000",
        }}
      >
        <b>{SENSOR_NAMES[p.idx]}</b> {SENSOR_DEPTHS[p.idx]}
      </div>
      <div
        style={{
          position: "absolute",
          left: p.xtX,
          top: p.xtY,
          transform: "translate(-50%, -50%) scaleX(1.1)",
          whiteSpace: "nowrap",
          fontFamily: SERIF,
          fontSize: 19,
          lineHeight: 1,
          color: "#000",
        }}
      >
        {X_TITLE}
      </div>
      {p.showY && (
        <div
          style={{
            position: "absolute",
            left: 69,
            top: p.ytY,
            transform: "translate(-50%, -50%) rotate(-90deg)",
            whiteSpace: "nowrap",
            fontFamily: SERIF,
            fontSize: 21,
            lineHeight: 1,
            color: "#000",
          }}
        >
          {Y_TITLE}
        </div>
      )}
    </>
  );
}

function LegendBox({ top, color, border, text, textLeft }: { top: number; color: string; border: string; text: string; textLeft: number }) {
  return (
    <div
      style={{
        position: "absolute",
        left: 908,
        top,
        width: 232,
        height: 40,
        boxSizing: "border-box",
        border: `1.5px solid ${border}`,
        background: "#fff",
      }}
    >
      <div style={{ position: "absolute", left: 20, top: 17, width: 63, height: 4.5, background: color }} />
      <div
        style={{
          position: "absolute",
          left: textLeft,
          top: 8,
          fontFamily: SERIF,
          fontSize: 22,
          lineHeight: 1,
          whiteSpace: "nowrap",
          color: "#000",
        }}
      >
        {text}
      </div>
    </div>
  );
}

export default function App() {
  return (
    <div
      style={{
        position: "absolute",
        left: 0,
        top: 0,
        width: 1252,
        height: 876,
        overflow: "hidden",
        background: "#fff",
      }}
    >
      <div
        style={{
          position: "absolute",
          left: 7,
          top: 4,
          width: 1240,
          height: 870,
          borderLeft: "2px solid #3a3a3a",
          borderTop: "2px solid #3a3a3a",
        }}
      />
      {PANELS.map((p) => (
        <Panel key={p.idx} p={p} />
      ))}
      {PANELS.map((p) => (
        <PanelTexts key={"t" + p.idx} p={p} />
      ))}
      <LegendBox top={623} color={BLUE} border="#2E75B6" text={SERIES_NAMES[0]} textLeft={104} />
      <LegendBox top={683} color={ORANGE} border={ORANGE} text={SERIES_NAMES[1]} textLeft={88} />
      <div
        style={{
          position: "absolute",
          left: 25,
          top: 852 - 0.8375 * 20,
          transform: "scaleX(1.19)",
          transformOrigin: "left center",
          fontFamily: SERIF,
          fontSize: 20,
          lineHeight: 1,
          whiteSpace: "nowrap",
          color: "#000",
        }}
      >
        <b>{CAPTION_BOLD}</b>
        {CAPTION_TEXT}
      </div>
    </div>
  );
}
